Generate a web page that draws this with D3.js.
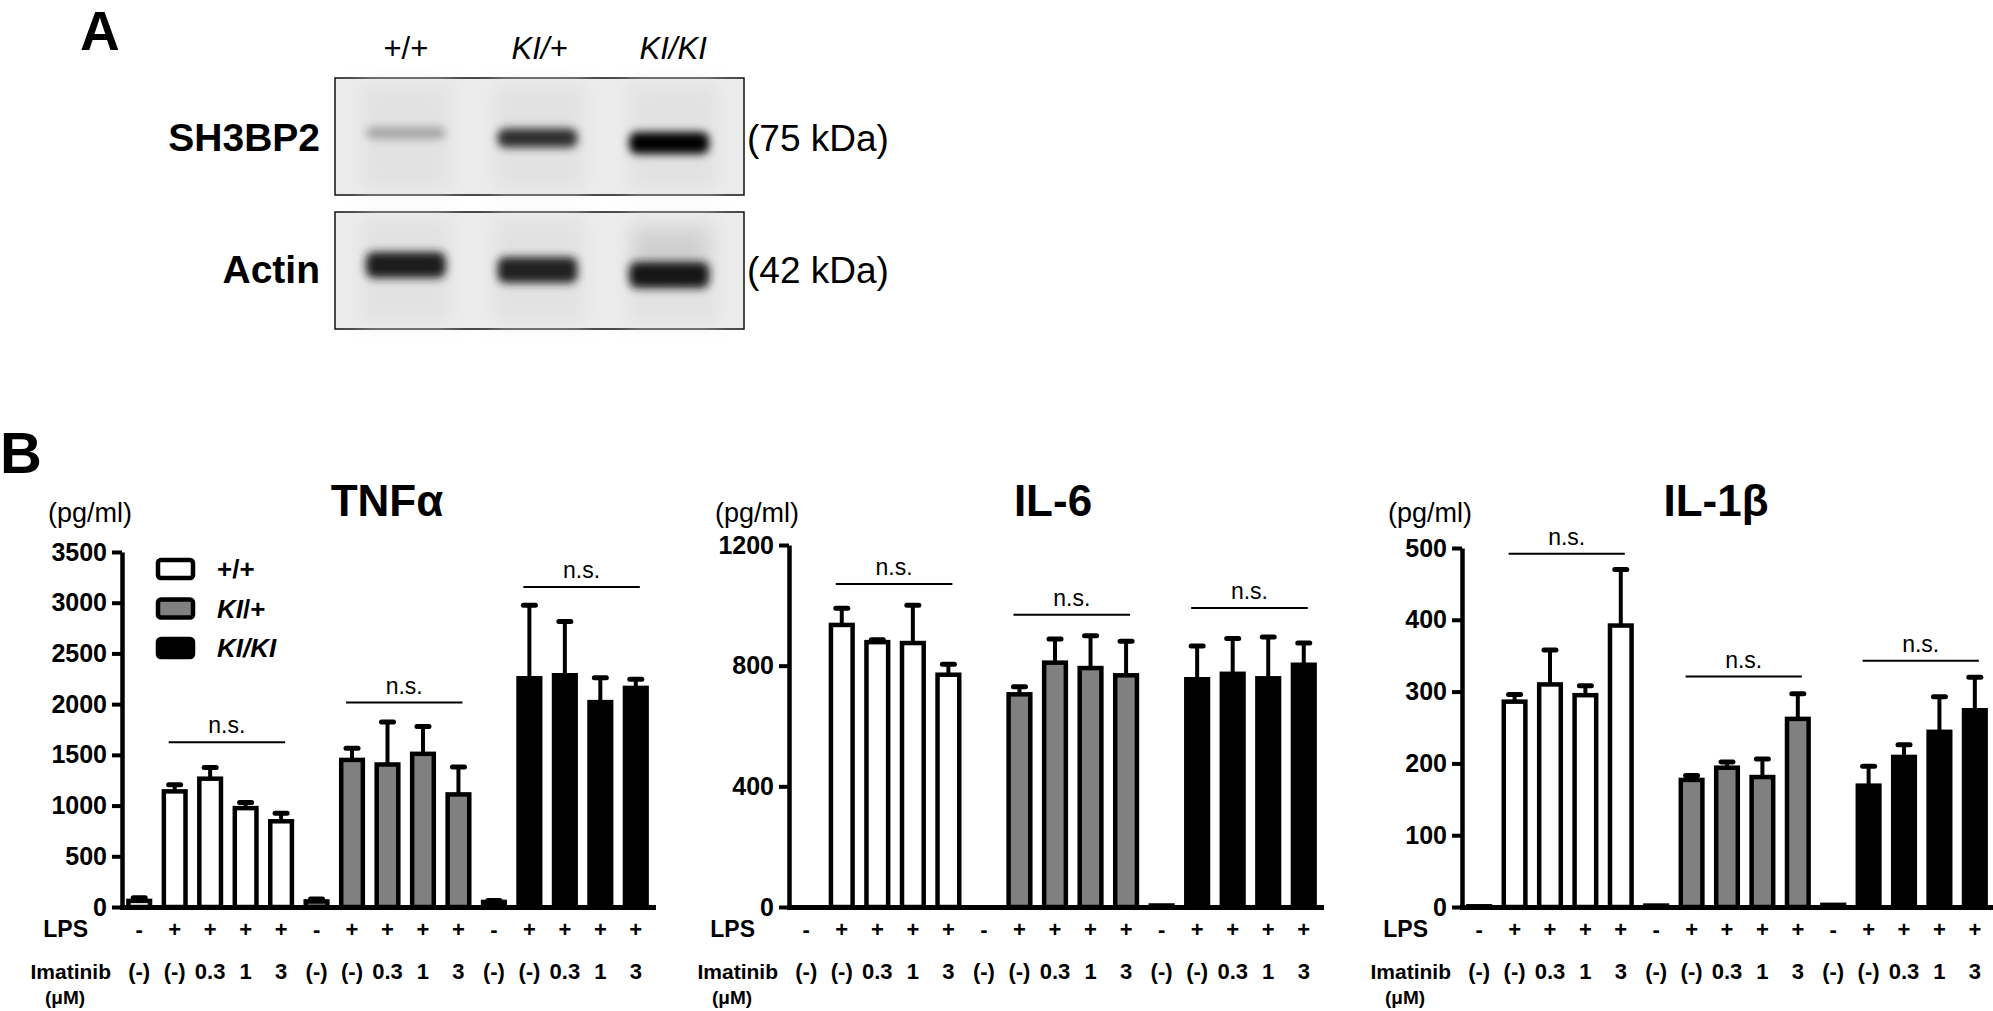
<!DOCTYPE html>
<html>
<head>
<meta charset="utf-8">
<script src="https://cdn.jsdelivr.net/npm/d3@7"></script>
<style>
    body { margin: 0; background: #fff; }
    svg { display: block; font-family: "Liberation Sans", Arial, sans-serif; }
</style>
</head>
<body>
<div class="chart-area"></div>
<script>
// western blot: lanes and band strength (0 = nothing, 1 = black)
var lanes = ["+/+", "KI/+", "KI/KI"];
var sh3bp2Bands = [0.3, 0.8, 1.0];
var actinBands = [0.88, 0.86, 0.92];

// ELISA
var genotypes = ["+/+", "KI/+", "KI/KI"];
var lpsLabels = ["-", "+", "+", "+", "+"];
var imatinibLabels = ["(-)", "(-)", "0.3", "1", "3"];

var tnfMean = [60, 1140, 1265, 975, 845, 55, 1450, 1405, 1510, 1110, 50, 2255, 2285, 2020, 2160];
var tnfSem = [30, 65, 110, 55, 80, 25, 115, 420, 270, 270, 15, 720, 530, 240, 85];
var tnfTicks = [0, 500, 1000, 1500, 2000, 2500, 3000, 3500];
var tnfNs = [1625, 2015, 3154];

var il6Mean = [0, 935, 878, 875, 770, 0, 705, 810, 792, 768, 5, 755, 773, 758, 803];
var il6Sem = [0, 55, 8, 125, 35, 0, 25, 78, 107, 113, 0, 110, 117, 137, 72];
var il6Ticks = [0, 400, 800, 1200];
var il6Ns = [1071, 969, 991];

var il1bMean = [1, 286, 310, 295, 392, 2, 177, 194, 181, 262, 3, 169, 209, 244, 274];
var il1bSem = [0, 10, 48, 13, 78, 0, 6, 8, 25, 35, 0, 27, 17, 49, 46];
var il1bTicks = [0, 100, 200, 300, 400, 500];
var il1bNs = [492, 321, 343];

var fills = ["#ffffff", "#808080", "#000000"];
var baseY = 907;

var svg = d3.select(".chart-area").append("svg")
    .attr("width", 1993)
    .attr("height", 1011);

var defs = svg.append("defs");
defs.append("filter").attr("id", "blur").attr("x", "-50%").attr("y", "-100%")
    .attr("width", "200%").attr("height", "300%")
    .append("feGaussianBlur").attr("stdDeviation", 4);
defs.append("filter").attr("id", "blurBig").attr("x", "-50%").attr("y", "-100%")
    .attr("width", "200%").attr("height", "300%")
    .append("feGaussianBlur").attr("stdDeviation", 9);

// ---------- panel A ----------
svg.append("text").attr("x", 80).attr("y", 50)
    .style("font-size", "55px").style("font-weight", "bold").text("A");

var lane = d3.scalePoint().domain(lanes).range([335, 744]).padding(0.53);

svg.selectAll("text.lane")
    .data(lanes)
    .enter()
    .append("text")
    .attr("class", "lane")
    .attr("x", function(d) { return lane(d); })
    .attr("y", 59)
    .attr("text-anchor", "middle")
    .style("font-size", "31px")
    .style("font-style", function(d) { return d.indexOf("KI") >= 0 ? "italic" : "normal"; })
    .text(function(d) { return d; });

var grey = d3.interpolateRgb("#ebebeb", "#000000");

function drawBlot(top, bands, bandY, bandH, name, kda, smear) {
    svg.append("rect")
        .attr("x", 335).attr("y", top).attr("width", 409).attr("height", 117)
        .attr("fill", "#ececec").attr("stroke", "#111").attr("stroke-width", 1.5);

    // faint lane smear
    svg.selectAll("rect.smear" + top)
        .data(lanes)
        .enter()
        .append("rect")
        .attr("x", function(d) { return lane(d) - 45; })
        .attr("y", top + 6)
        .attr("width", 90)
        .attr("height", 105)
        .attr("fill", "#e2e2e2")
        .attr("filter", "url(#blurBig)");

    if (smear) {
        svg.append("rect")
            .attr("x", lane("KI/KI") - 38).attr("y", top + 20)
            .attr("width", 70).attr("height", 50)
            .attr("fill", "#cfcfcf").attr("filter", "url(#blurBig)");
    }

    svg.selectAll("rect.band" + top)
        .data(bands)
        .enter()
        .append("rect")
        .attr("x", function(d, i) { return lane(lanes[i]) - 40 + i * -2; })
        .attr("y", function(d, i) { return bandY + i * 5 - bandH(d) / 2; })
        .attr("width", 80)
        .attr("height", function(d) { return bandH(d); })
        .attr("rx", 8)
        .attr("fill", function(d) { return grey(d); })
        .attr("filter", "url(#blur)");

    svg.append("text")
        .attr("x", 320).attr("y", bandY + 18)
        .attr("text-anchor", "end")
        .style("font-size", "39px").style("font-weight", "bold")
        .text(name);

    svg.append("text")
        .attr("x", 747).attr("y", bandY + 18)
        .style("font-size", "37px")
        .text(kda);
}

drawBlot(78, sh3bp2Bands, 133, function(d) { return 8 + d * 14; }, "SH3BP2", "(75 kDa)", false);
drawBlot(212, actinBands, 265, function(d) { return 26; }, "Actin", "(42 kDa)", true);

// ---------- panel B ----------
svg.append("text").attr("x", 0).attr("y", 473)
    .style("font-size", "58px").style("font-weight", "bold").text("B");

var charts = [
    { title: "TNFα", mean: tnfMean, sem: tnfSem, ticks: tnfTicks, max: 3500, x0: 122, x1: 653, top: 552, ns: tnfNs, titleX: 387 },
    { title: "IL-6", mean: il6Mean, sem: il6Sem, ticks: il6Ticks, max: 1200, x0: 789, x1: 1321, top: 545, ns: il6Ns, titleX: 1053 },
    { title: "IL-1β", mean: il1bMean, sem: il1bSem, ticks: il1bTicks, max: 500, x0: 1462, x1: 1992, top: 548, ns: il1bNs, titleX: 1716 }
];

charts.forEach(function(c, ci) {
    var g = svg.append("g");
    var idx = d3.range(c.mean.length);

    var x = d3.scaleBand()
        .domain(idx)
        .range([c.x0, c.x1])
        .paddingInner(0.39)
        .paddingOuter(0.18);
    var y = d3.scaleLinear().domain([0, c.max]).range([baseY, c.top]);
    var cx = function(i) { return x(i) + x.bandwidth() / 2; };

    // title and unit
    g.append("text")
        .attr("x", c.titleX).attr("y", 516)
        .attr("text-anchor", "middle")
        .style("font-size", "44px").style("font-weight", "bold")
        .text(c.title);
    g.append("text")
        .attr("x", c.x0 + 10).attr("y", 522)
        .attr("text-anchor", "end")
        .style("font-size", "27px")
        .text("(pg/ml)");

    // error bars (upper only), drawn first so the bar outline sits on top
    var err = g.selectAll("g.err")
        .data(idx)
        .enter()
        .append("g")
        .attr("class", "err")
        .style("display", function(i) { return c.sem[i] > 0 ? null : "none"; });
    err.append("line")
        .attr("x1", function(i) { return cx(i); })
        .attr("x2", function(i) { return cx(i); })
        .attr("y1", function(i) { return y(c.mean[i]); })
        .attr("y2", function(i) { return y(c.mean[i] + c.sem[i]); })
        .attr("stroke", "#000").attr("stroke-width", 4);
    err.append("line")
        .attr("x1", function(i) { return cx(i) - 6; })
        .attr("x2", function(i) { return cx(i) + 6; })
        .attr("y1", function(i) { return y(c.mean[i] + c.sem[i]); })
        .attr("y2", function(i) { return y(c.mean[i] + c.sem[i]); })
        .attr("stroke", "#000").attr("stroke-width", 5)
        .attr("stroke-linecap", "round");

    // bars
    g.selectAll("rect.bar")
        .data(idx)
        .enter()
        .append("rect")
        .attr("class", "bar")
        .attr("x", function(i) { return x(i); })
        .attr("width", x.bandwidth())
        .attr("y", function(i) { return y(c.mean[i]); })
        .attr("height", function(i) { return baseY - y(c.mean[i]); })
        .attr("fill", function(i) { return fills[Math.floor(i / 5)]; })
        .attr("stroke", "#000")
        .attr("stroke-width", 4.5)
        .style("display", function(i) { return c.mean[i] > 0 ? null : "none"; });

    // y axis
    var yAxis = g.append("g")
        .attr("transform", "translate(" + c.x0 + ",0)")
        .call(d3.axisLeft(y).tickValues(c.ticks).tickSize(10).tickSizeOuter(0).tickPadding(5)
            .tickFormat(d3.format("d")));
    yAxis.select(".domain").attr("stroke-width", 4.5);
    yAxis.selectAll(".tick line").attr("stroke-width", 4);
    yAxis.selectAll(".tick text")
        .style("font-size", "25px").style("font-weight", "bold")
        .style("font-family", "'Liberation Sans', Arial, sans-serif")
        .attr("fill", "#000");

    // x axis with LPS row as tick labels
    var xAxis = g.append("g")
        .attr("transform", "translate(0," + baseY + ")")
        .call(d3.axisBottom(x).tickSize(0).tickSizeOuter(0).tickPadding(14)
            .tickFormat(function(i) { return lpsLabels[i % 5]; }));
    xAxis.select(".domain").attr("stroke-width", 5).attr("stroke-linecap", "square");
    xAxis.selectAll(".tick text")
        .style("font-size", "22px").style("font-weight", "bold")
        .style("font-family", "'Liberation Sans', Arial, sans-serif")
        .attr("fill", "#000");

    // imatinib row
    g.selectAll("text.ima")
        .data(idx)
        .enter()
        .append("text")
        .attr("class", "ima")
        .attr("x", function(i) { return cx(i); })
        .attr("y", 979)
        .attr("text-anchor", "middle")
        .style("font-size", "22px").style("font-weight", "bold")
        .text(function(i) { return imatinibLabels[i % 5]; });

    g.append("text").attr("x", c.x0 - 34).attr("y", 937).attr("text-anchor", "end")
        .style("font-size", "23px").style("font-weight", "bold").text("LPS");
    g.append("text").attr("x", c.x0 - 11).attr("y", 979).attr("text-anchor", "end")
        .style("font-size", "21px").style("font-weight", "bold").text("Imatinib");
    g.append("text").attr("x", c.x0 - 57).attr("y", 1004).attr("text-anchor", "middle")
        .style("font-size", "19px").style("font-weight", "bold").text("(μM)");

    // n.s. brackets
    c.ns.forEach(function(level, k) {
        var a = cx(k * 5 + 1) - 6;
        var b = cx(k * 5 + 4) + 4;
        g.append("line")
            .attr("x1", a).attr("x2", b)
            .attr("y1", y(level)).attr("y2", y(level))
            .attr("stroke", "#000").attr("stroke-width", 2);
        g.append("text")
            .attr("x", (a + b) / 2).attr("y", y(level) - 9)
            .attr("text-anchor", "middle")
            .style("font-size", "23px")
            .text("n.s.");
    });

    // legend on the first chart
    if (ci === 0) {
        var leg = g.selectAll("g.leg")
            .data(genotypes)
            .enter()
            .append("g")
            .attr("class", "leg")
            .attr("transform", function(d, i) { return "translate(158," + (560 + i * 39.5) + ")"; });
        leg.append("rect")
            .attr("width", 35).attr("height", 18).attr("rx", 3)
            .attr("fill", function(d, i) { return fills[i]; })
            .attr("stroke", "#000").attr("stroke-width", 4.5);
        var lt = leg.append("text")
            .attr("x", 59).attr("y", 18)
            .style("font-size", "26px").style("font-weight", "bold");
        lt.each(function(d) {
            var t = d3.select(this);
            d.split("/").forEach(function(part, j) {
                t.append("tspan")
                    .style("font-style", part === "KI" ? "italic" : "normal")
                    .text((j > 0 ? "/" : "") + part);
            });
        });
    }
});
</script>
</body>
</html>
